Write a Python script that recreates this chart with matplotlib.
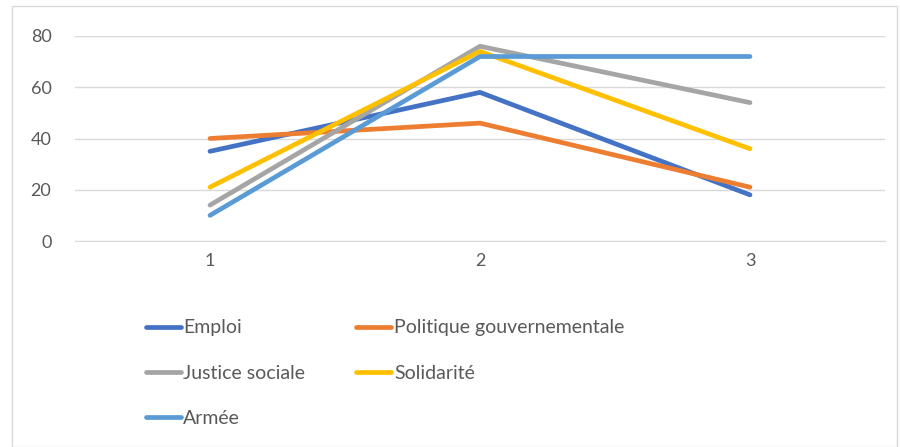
import matplotlib.pyplot as plt
from matplotlib.patches import Rectangle

plt.rcParams['font.family'] = ['Lato', 'DejaVu Sans']

# data
categories = [1, 2, 3]
emploi = [35, 58, 18]
politique = [40, 46, 21]
justice = [14, 76, 54]
solidarite = [21, 74, 36]
armee = [10, 72, 72]

series = [
    ("Emploi", emploi, "#4472c4"),
    ("Politique gouvernementale", politique, "#ed7d31"),
    ("Justice sociale", justice, "#a5a5a5"),
    ("Solidarité", solidarite, "#ffc000"),
    ("Armée", armee, "#5b9bd5"),
]

fig = plt.figure(figsize=(9, 4.47), dpi=100)
ax = fig.add_axes([75 / 900, 1 - 241 / 447, 810 / 900, 205 / 447])

lines = {}
for name, vals, col in series:
    ln, = ax.plot(categories, vals, color=col, lw=3.4, label=name,
                  solid_capstyle='round', solid_joinstyle='round')
    lines[name] = ln

ax.set_xlim(0.5, 3.5)
ax.set_ylim(0, 80)
ax.set_yticks([0, 20, 40, 60, 80])
ax.set_xticks(categories)
ax.grid(axis='y', color='#d9d9d9', lw=1)
ax.set_axisbelow(True)
for s in ['top', 'right', 'left']:
    ax.spines[s].set_visible(False)
ax.spines['bottom'].set_color('#d9d9d9')
ax.tick_params(length=0, labelsize=13, colors='#595959')
ax.tick_params(axis='y', pad=17)
ax.tick_params(axis='x', pad=9)

# row-wise legend order, like the reference
order = ["Emploi", "Justice sociale", "Armée", "Politique gouvernementale", "Solidarité"]
leg = fig.legend([lines[n] for n in order], order,
                 loc='upper left', bbox_to_anchor=(128 / 900, 1 - 302 / 447),
                 ncol=2, frameon=False, fontsize=14, handlelength=1.8,
                 handletextpad=0.15, columnspacing=2.6, labelspacing=1.45)
for t in leg.get_texts():
    t.set_color('#595959')
for h in leg.get_lines():
    h.set_linewidth(3.4)
    h.set_solid_capstyle('round')

# chart border
fig.patches.append(Rectangle((12 / 900, 0), 885 / 900, 1 - 6 / 447,
                             transform=fig.transFigure, fill=False,
                             edgecolor='#d9d9d9', lw=1))

fig.savefig('out.png', dpi=100)
